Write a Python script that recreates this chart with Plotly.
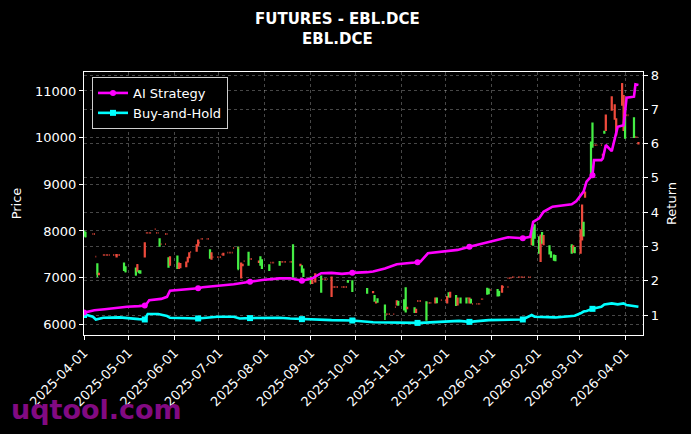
import plotly.graph_objects as go

# ---------------- price candles ----------------
candle_dates = [
    "2025-04-01", "2025-04-02", "2025-04-10", "2025-04-11", "2025-04-23", "2025-04-28", "2025-04-29",
    "2025-05-06", "2025-05-07", "2025-05-08", "2025-05-09", "2025-05-12", "2025-05-22", "2025-05-28", "2025-05-29",
    "2025-06-03", "2025-06-04", "2025-06-05", "2025-06-09", "2025-06-10", "2025-06-11", "2025-06-16", "2025-06-17", "2025-06-25", "2025-06-26",
    "2025-07-04", "2025-07-14", "2025-07-16", "2025-07-17", "2025-07-21", "2025-07-28", "2025-07-29", "2025-07-30",
    "2025-08-04", "2025-08-11", "2025-08-20", "2025-08-25", "2025-08-26", "2025-08-27",
    "2025-09-01", "2025-09-02", "2025-09-04", "2025-09-08", "2025-09-15", "2025-09-26", "2025-09-29",
    "2025-10-09", "2025-10-13", "2025-10-14", "2025-10-15", "2025-10-16", "2025-10-21", "2025-10-29", "2025-10-30",
    "2025-11-03", "2025-11-04", "2025-11-05", "2025-11-10", "2025-11-11", "2025-11-18", "2025-11-24", "2025-11-25",
    "2025-12-02", "2025-12-03", "2025-12-04", "2025-12-08", "2025-12-09", "2025-12-11", "2025-12-15", "2025-12-17", "2025-12-18", "2025-12-29", "2025-12-30",
    "2026-01-05", "2026-01-06", "2026-01-08", "2026-01-28", "2026-01-29", "2026-01-30",
    "2026-02-02", "2026-02-03", "2026-02-04", "2026-02-05", "2026-02-09", "2026-02-10", "2026-02-12", "2026-02-13", "2026-02-24", "2026-02-25", "2026-02-26",
    "2026-03-02", "2026-03-03", "2026-03-04", "2026-03-05", "2026-03-09", "2026-03-10", "2026-03-17", "2026-03-18", "2026-03-19", "2026-03-23", "2026-03-25", "2026-03-26", "2026-03-30", "2026-03-31",
    "2026-04-01", "2026-04-07", "2026-04-10",
]
candle_open = [
    7900, 7880, 7080, 7090, 7490, 7160, 7130,
    7060, 7270, 7110, 7100, 7740, 7680, 7230, 7440,
    7200, 7310, 7300, 7330, 7430, 7530, 7700, 7800, 7420, 7530,
    7520, 7200, 7310, 7280, 7270, 7350, 7270, 7200,
    7160, 7270, 7020, 7280, 7120, 7030,
    6880, 6990, 7080, 6690, 7010, 6905, 6710,
    6670, 6700, 6500, 6480, 6480, 6260, 6500, 6420,
    6310, 6270, 6360, 6260, 6320, 6090, 6560, 6470,
    6590, 6590, 6680, 6410, 6560, 6460, 6460, 6560, 6460, 6650, 6660,
    6610, 6620, 6820, 8000, 7700, 7850,
    7530, 7910, 7740, 7900, 7510, 7440, 7380, 7370, 7530, 7680, 7540,
    8020, 8550, 7900, 8830, 9200, 9800, 9640, 10100, 10480, 10870, 10700, 10400, 11150, 10900,
    9990, 10010, 9890,
]
candle_high = [
    8010, 7990, 7300, 7100, 7495, 7320, 7240,
    7210, 7290, 7150, 7145, 7760, 7840, 7430, 7450,
    7470, 7320, 7310, 7340, 7440, 7540, 7710, 7810, 7600, 7540,
    7525, 7670, 7320, 7285, 7550, 7355, 7450, 7390,
    7280, 7350, 7710, 7285, 7260, 7190,
    7020, 7000, 7090, 7040, 7020, 6940, 6940,
    6770, 6705, 6620, 6490, 6550, 6420, 6510, 6500,
    6530, 6790, 6365, 6360, 6325, 6490, 6570, 6570,
    6600, 6680, 6700, 6620, 6565, 6570, 6570, 6570, 6540, 6780, 6760,
    6750, 6720, 6830, 8030, 8090, 8140,
    7880, 7920, 7970, 7910, 7690, 7560, 7490, 7480, 7710, 7690, 7650,
    8030, 8560, 8200, 8840, 9910, 10320, 9645, 10135, 10490, 10880, 10710, 10410, 11170, 10910,
    10640, 10430, 9895,
]
candle_low = [
    7880, 7860, 7010, 7060, 7440, 7150, 7110,
    7040, 7130, 7100, 7095, 7440, 7670, 7220, 7260,
    7190, 7190, 7210, 7230, 7330, 7420, 7560, 7680, 7410, 7390,
    7480, 7160, 6990, 7255, 7260, 7325, 7260, 7190,
    7150, 7260, 7000, 7255, 7110, 7020,
    6870, 6870, 6900, 6680, 6590, 6900, 6700,
    6660, 6675, 6490, 6450, 6470, 6090, 6410, 6400,
    6300, 6260, 6335, 6250, 6255, 6080, 6450, 6460,
    6450, 6580, 6570, 6400, 6410, 6450, 6450, 6450, 6450, 6640, 6650,
    6600, 6610, 6680, 7700, 7690, 7840,
    7520, 7340, 7730, 7700, 7500, 7430, 7370, 7360, 7520, 7540, 7530,
    7520, 7800, 7880, 8720, 9190, 9790, 9615, 10095, 10150, 10580, 10390, 10050, 10690, 10150,
    9980, 10000, 9865,
]
candle_close = [
    7990, 7960, 7290, 7070, 7450, 7310, 7230,
    7200, 7140, 7140, 7140, 7450, 7830, 7420, 7270,
    7460, 7200, 7220, 7240, 7340, 7430, 7570, 7690, 7590, 7400,
    7485, 7650, 7000, 7260, 7540, 7330, 7440, 7380,
    7270, 7340, 7700, 7260, 7250, 7180,
    7010, 6880, 6910, 7030, 6600, 6935, 6930,
    6760, 6680, 6610, 6460, 6540, 6410, 6420, 6490,
    6520, 6780, 6340, 6350, 6260, 6480, 6460, 6560,
    6460, 6670, 6590, 6610, 6420, 6560, 6560, 6460, 6530, 6770, 6750,
    6740, 6700, 6690, 7710, 8080, 8130,
    7870, 7350, 7960, 7710, 7680, 7550, 7480, 7470, 7700, 7550, 7640,
    7530, 7810, 8180, 8730, 9900, 10310, 9620, 10130, 10160, 10590, 10400, 10060, 10700, 10160,
    10630, 10420, 9870,
]

# flat sessions (open = high = low = close), drawn as short red dashes
flat_dates = [
    "2025-04-07", "2025-04-08", "2025-04-09",
    "2025-04-14", "2025-04-15", "2025-04-16", "2025-04-17", "2025-04-18",
    "2025-04-21", "2025-04-22", "2025-04-24", "2025-04-25",
    "2025-05-13", "2025-05-14", "2025-05-15", "2025-05-16", "2025-05-19", "2025-05-20", "2025-05-21",
    "2025-05-23", "2025-05-26", "2025-05-26", "2025-05-27",
    "2025-06-12", "2025-06-18", "2025-06-19", "2025-06-20", "2025-06-23", "2025-06-24",
    "2025-06-27", "2025-06-30", "2025-07-01", "2025-07-02",
    "2025-07-03", "2025-07-07", "2025-07-08", "2025-07-09", "2025-07-10", "2025-07-11", "2025-07-14",
    "2025-07-18", "2025-07-22", "2025-07-23",
    "2025-08-05", "2025-08-06", "2025-08-07", "2025-08-12", "2025-08-13", "2025-08-14", "2025-08-15",
    "2025-08-18", "2025-08-19",
    "2025-09-09", "2025-09-10", "2025-09-11", "2025-09-12",
    "2025-09-16", "2025-09-17", "2025-09-18", "2025-09-19",
    "2025-09-22", "2025-09-23", "2025-09-24", "2025-09-25",
    "2025-10-22", "2025-10-23", "2025-10-24", "2025-10-27", "2025-10-28",
    "2025-11-12", "2025-11-13", "2025-11-14", "2025-11-19", "2025-11-20", "2025-11-21",
    "2025-11-28", "2025-12-01",
    "2025-12-16", "2025-12-19", "2025-12-22", "2025-12-23", "2025-12-24", "2025-12-25", "2025-12-26",
    "2025-12-31",
    "2026-01-09", "2026-01-12", "2026-01-12", "2026-01-13", "2026-01-14",
    "2026-01-15", "2026-01-16", "2026-01-19", "2026-01-20", "2026-01-21", "2026-01-22", "2026-01-23",
    "2026-01-26", "2026-01-27",
    "2026-03-11", "2026-03-12", "2026-03-13", "2026-03-16",
    "2026-04-02", "2026-04-03", "2026-04-08", "2026-04-09",
]
flat_price = [
    7935, 7935, 7450,
    7485, 7485, 7485, 7485, 7485,
    7485, 7485, 7485, 7485,
    7960, 7960, 7960, 7960, 8040, 7960, 7960,
    7720, 7720, 7935, 7935,
    7550, 7750, 7830, 7830, 7830, 7830,
    7440, 7440, 7440, 7440,
    7500, 7535, 7535, 7535, 7535, 7635, 7635,
    7355, 7400, 7400,
    7320, 7320, 7320, 7340, 7340, 7340, 7340,
    7340, 7340,
    6970, 6970, 6970, 6970,
    6800, 6800, 6800, 6800,
    6800, 6800, 6800, 6800,
    6220, 6220, 6220, 6220, 6370,
    6500, 6500, 6500, 6460, 6460, 6460,
    6520, 6520,
    6560, 6440, 6440, 6440, 6440, 6540, 6540,
    6735,
    6800, 6800, 6990, 6990, 6990,
    7010, 7010, 7010, 7010, 7010, 7010, 7010,
    7010, 7010,
    9840, 9840, 9840, 9840,
    10480, 10480, 10010, 10010,
]

# ---------------- cumulative returns ----------------
ai_dates = [
    "2025-04-01", "2025-04-08", "2025-04-15", "2025-04-23", "2025-04-30", "2025-05-08", "2025-05-12",
    "2025-05-13", "2025-05-15", "2025-05-23", "2025-05-27", "2025-05-29", "2025-06-13", "2025-06-17",
    "2025-06-20", "2025-06-30", "2025-07-11", "2025-07-22", "2025-07-30", "2025-08-11", "2025-08-18",
    "2025-08-26", "2025-09-02", "2025-09-08", "2025-09-15", "2025-09-22", "2025-09-29", "2025-10-09",
    "2025-10-13", "2025-10-21", "2025-10-29", "2025-11-10", "2025-11-12", "2025-11-14", "2025-11-19",
    "2025-11-28", "2025-12-09", "2025-12-17", "2025-12-26", "2026-01-05", "2026-01-12", "2026-01-22",
    "2026-01-27", "2026-01-29", "2026-02-02", "2026-02-05", "2026-02-11", "2026-02-24", "2026-02-27",
    "2026-03-04", "2026-03-06", "2026-03-10", "2026-03-11", "2026-03-16", "2026-03-17", "2026-03-19",
    "2026-03-23", "2026-03-24", "2026-03-27", "2026-03-31", "2026-04-01", "2026-04-02", "2026-04-07",
    "2026-04-08", "2026-04-10",
]
ai_return = [
    1.07, 1.14, 1.17, 1.21, 1.24, 1.26, 1.28,
    1.31, 1.43, 1.47, 1.53, 1.71, 1.75, 1.78,
    1.81, 1.85, 1.90, 1.97, 2.02, 2.07, 2.07,
    2.00, 2.07, 2.22, 2.23, 2.20, 2.23, 2.25,
    2.27, 2.36, 2.48, 2.53, 2.54, 2.56, 2.80,
    2.85, 2.90, 2.99, 3.09, 3.19, 3.27, 3.24,
    3.28, 3.72, 3.82, 4.01, 4.16, 4.23, 4.32,
    4.60, 4.89, 5.08, 5.52, 5.52, 5.57, 5.96,
    5.78, 5.96, 6.49, 6.54, 7.04, 7.34, 7.37,
    7.73, 7.71,
]
bh_dates = [
    "2025-04-01", "2025-04-03", "2025-04-07", "2025-04-09", "2025-04-14", "2025-04-25", "2025-05-08",
    "2025-05-12", "2025-05-14", "2025-05-21", "2025-05-27", "2025-05-29", "2025-06-17", "2025-06-30",
    "2025-07-11", "2025-07-15", "2025-07-22", "2025-08-11", "2025-08-18", "2025-08-26", "2025-09-15",
    "2025-09-29", "2025-10-13", "2025-11-12", "2025-11-14", "2025-12-10", "2025-12-17", "2025-12-30",
    "2026-01-22", "2026-01-28", "2026-01-30", "2026-02-13", "2026-02-26", "2026-03-02", "2026-03-04",
    "2026-03-06", "2026-03-10", "2026-03-16", "2026-03-18", "2026-03-23", "2026-03-27", "2026-03-31",
    "2026-04-02", "2026-04-10",
]
bh_return = [
    1.00, 1.00, 0.95, 0.87, 0.92, 0.93, 0.88,
    0.87, 1.03, 1.03, 0.97, 0.92, 0.90, 0.95,
    0.95, 0.90, 0.91, 0.92, 0.90, 0.88, 0.85,
    0.84, 0.79, 0.77, 0.77, 0.83, 0.80, 0.85,
    0.87, 1.00, 0.95, 0.93, 0.98, 1.05, 1.10,
    1.12, 1.18, 1.24, 1.31, 1.34, 1.31, 1.34,
    1.29, 1.24,
]
marker_dates = [
    "2025-04-01", "2025-05-12", "2025-06-17", "2025-07-22", "2025-08-26", "2025-09-29",
    "2025-11-12", "2025-12-17", "2026-01-22", "2026-03-10",
]

month_ticks = [
    "2025-04-01", "2025-05-01", "2025-06-01", "2025-07-01", "2025-08-01", "2025-09-01", "2025-10-01",
    "2025-11-01", "2025-12-01", "2026-01-01", "2026-02-01", "2026-03-01", "2026-04-01",
]
price_ticks = [6000, 7000, 8000, 9000, 10000, 11000]
price_tick_text = ["6000", "7000", "8000", "9000", "10000", "11000"]
return_ticks = [1, 2, 3, 4, 5, 6, 7, 8]

assert len(candle_dates) == len(candle_open) == len(candle_high) == len(candle_low) == len(candle_close)
assert len(flat_dates) == len(flat_price)
assert len(ai_dates) == len(ai_return)
assert len(bh_dates) == len(bh_return)

GREEN = "#45ee45"
RED = "#ee4a3c"
MAG = "#ff00ff"
CYAN = "#00ffff"
GRID = "rgba(255,255,255,0.28)"
GRID_DASH = "3px,3px"
FONT = "DejaVu Sans"

fig = go.Figure()
fig.add_trace(go.Candlestick(
    x=candle_dates, open=candle_open, high=candle_high, low=candle_low, close=candle_close,
    increasing=dict(line=dict(color=GREEN, width=1.5), fillcolor=GREEN),
    decreasing=dict(line=dict(color=RED, width=1.5), fillcolor=RED),
    whiskerwidth=0, showlegend=False, hoverinfo="skip", yaxis="y",
))
fig.add_trace(go.Candlestick(
    x=flat_dates, open=flat_price, high=flat_price, low=flat_price, close=flat_price,
    increasing=dict(line=dict(color=RED, width=1.8), fillcolor=RED),
    decreasing=dict(line=dict(color=RED, width=1.8), fillcolor=RED),
    whiskerwidth=0, showlegend=False, hoverinfo="skip", yaxis="y",
))

fig.add_trace(go.Scatter(x=bh_dates, y=bh_return, mode="lines", line=dict(color=CYAN, width=2.6),
                         yaxis="y2", showlegend=False, hoverinfo="skip"))
fig.add_trace(go.Scatter(x=ai_dates, y=ai_return, mode="lines", line=dict(color=MAG, width=2.6),
                         yaxis="y2", showlegend=False, hoverinfo="skip"))

ai_mx = [d for d in ai_dates if d in marker_dates]
ai_my = [v for d, v in zip(ai_dates, ai_return) if d in marker_dates]
bh_mx = [d for d in bh_dates if d in marker_dates]
bh_my = [v for d, v in zip(bh_dates, bh_return) if d in marker_dates]
fig.add_trace(go.Scatter(x=bh_mx, y=bh_my, mode="markers", marker=dict(color=CYAN, size=6, symbol="square"),
                         yaxis="y2", showlegend=False, hoverinfo="skip"))
fig.add_trace(go.Scatter(x=ai_mx, y=ai_my, mode="markers", marker=dict(color=MAG, size=6, symbol="circle"),
                         yaxis="y2", showlegend=False, hoverinfo="skip"))

# legend entries
fig.add_trace(go.Scatter(x=[None], y=[None], mode="lines+markers", name="AI Strategy",
                         line=dict(color=MAG, width=2.6), marker=dict(color=MAG, size=6, symbol="circle"),
                         yaxis="y2"))
fig.add_trace(go.Scatter(x=[None], y=[None], mode="lines+markers", name="Buy-and-Hold",
                         line=dict(color=CYAN, width=2.6), marker=dict(color=CYAN, size=6, symbol="square"),
                         yaxis="y2"))

L, R, T, B = 84, 48, 72, 99
W, H = 691, 434
pw, ph = W - L - R, H - T - B

def px_x(x):
    return (x - L) / pw

def px_y(y):
    return (H - B - y) / ph

fig.update_layout(
    width=W, height=H,
    margin=dict(l=L, r=R, t=T, b=B),
    paper_bgcolor="black", plot_bgcolor="black",
    font=dict(family=FONT, color="white", size=13),
    showlegend=True,
    legend=dict(x=px_x(92), y=px_y(77), xanchor="left", yanchor="top",
                bgcolor="black", bordercolor="#cfcfcf", borderwidth=1,
                font=dict(family=FONT, size=13, color="white"), tracegroupgap=2),
    xaxis=dict(
        type="date", range=["2025-04-01", "2026-04-13 02:00"],
        tickvals=month_ticks, ticktext=month_ticks, tickangle=-45,
        showgrid=True, gridcolor=GRID, griddash=GRID_DASH, gridwidth=1,
        showline=True, linecolor="white", linewidth=1.2, mirror=True,
        ticks="outside", ticklen=4, tickcolor="white",
        tickfont=dict(family=FONT, size=13, color="white"),
        rangeslider=dict(visible=False), zeroline=False,
    ),
    yaxis=dict(
        range=[5771, 11407], tickvals=price_ticks, ticktext=price_tick_text,
        showgrid=True, gridcolor=GRID, griddash=GRID_DASH, gridwidth=1,
        showline=True, linecolor="white", linewidth=1.2, mirror=True,
        ticks="outside", ticklen=4, tickcolor="white", zeroline=False,
        tickfont=dict(family=FONT, size=13, color="white"),
        title=dict(text="Price", font=dict(family=FONT, size=13, color="white"), standoff=10),
    ),
    yaxis2=dict(
        overlaying="y", side="right", range=[0.417, 8.09], tickvals=return_ticks,
        showgrid=True, gridcolor=GRID, griddash=GRID_DASH, gridwidth=1,
        showline=True, linecolor="white", linewidth=1.2,
        ticks="outside", ticklen=4, tickcolor="white", zeroline=False,
        tickfont=dict(family=FONT, size=13, color="white"),
        title=dict(text="Return", font=dict(family=FONT, size=13, color="white"), standoff=8),
    ),
    annotations=[
        dict(text="<b>FUTURES - EBL.DCE</b>", x=px_x(337), y=px_y(19), xref="paper", yref="paper",
             xanchor="center", yanchor="middle", showarrow=False,
             font=dict(family=FONT, size=15, color="white")),
        dict(text="<b>EBL.DCE</b>", x=px_x(337), y=px_y(39), xref="paper", yref="paper",
             xanchor="center", yanchor="middle", showarrow=False,
             font=dict(family=FONT, size=15, color="white")),
        dict(text="<b>uqtool.com</b>", x=px_x(9), y=px_y(409), xref="paper", yref="paper",
             xanchor="left", yanchor="middle", showarrow=False,
             font=dict(family=FONT, size=27, color="#820a82")),
    ],
)

fig.write_html("out.html")
